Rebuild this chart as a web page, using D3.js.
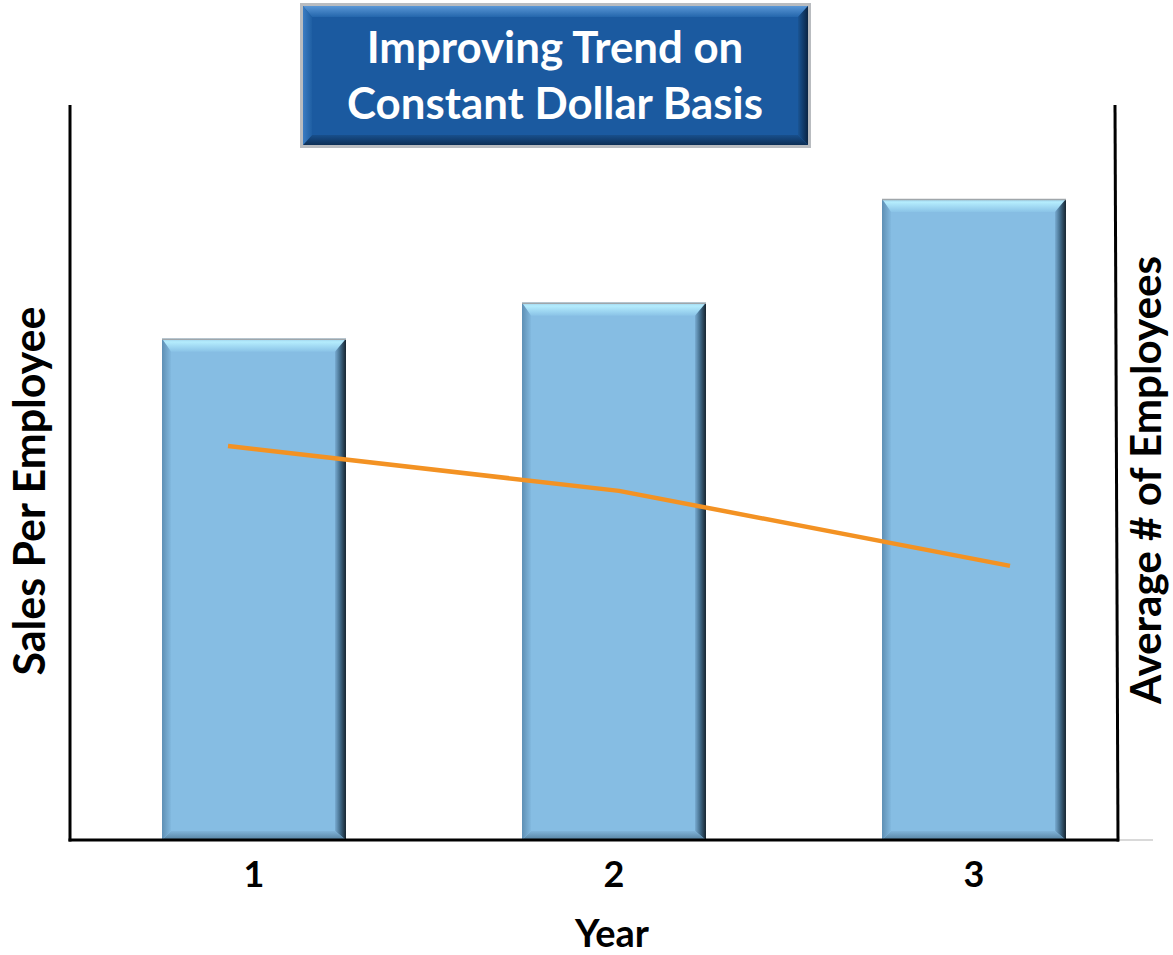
<!DOCTYPE html>
<html>
<head>
<meta charset="utf-8">
<script src="https://cdn.jsdelivr.net/npm/d3@7/dist/d3.min.js"></script>
<style>
  html, body { margin: 0; padding: 0; background: #ffffff; }
  svg { display: block; }
  text { font-family: Lato, "Open Sans", "DejaVu Sans", sans-serif; font-weight: 700; }
</style>
</head>
<body>
<svg id="chart" width="1173" height="955"></svg>
<script>
// ---- data ----
const years = [1, 2, 3];
const salesPerEmployee = [68.2, 73.1, 87.2];   // bars, left axis (index units)
const avgEmployees = [53.6, 47.5, 37.3];       // line, right axis (index units)
const tickLabels = ["1", "2", "3"];
const titleLines = ["Improving Trend on", "Constant Dollar Basis"];
const xAxisTitle = "Year";
const leftAxisTitle = "Sales Per Employee";
const rightAxisTitle = "Average # of Employees";

// ---- layout ----
const plot = { left: 70, right: 1117, top: 105, bottom: 840 };
const svg = d3.select("#chart");
const defs = svg.append("defs");

const x = d3.scaleBand().domain(years).range([74, 1154]).paddingInner(0.489).paddingOuter(0.2445);
const yLeft = d3.scaleLinear().domain([0, 100]).range([plot.bottom, plot.top]);
const yRight = d3.scaleLinear().domain([0, 100]).range([plot.bottom, plot.top]);
const xLine = d3.scaleLinear().domain([1, 3]).range([228, 1010]);

function grad(id, x2, y2, stops) {
  const g = defs.append("linearGradient").attr("id", id)
    .attr("x1", 0).attr("y1", 0).attr("x2", x2).attr("y2", y2);
  stops.forEach(([o, c]) => g.append("stop").attr("offset", o).attr("stop-color", c));
}

// bar bevel gradients
grad("barTop", 0, 1, [[0, "#9ccfe9"], [0.25, "#b4ecfd"], [1, "#8ac3e7"]]);
grad("barRight", 1, 0, [[0, "#79acd2"], [0.5, "#3f6886"], [1, "#17242f"]]);
grad("barLeft", 1, 0, [[0, "#5e8fb4"], [1, "#82b9df"]]);
grad("barBottom", 0, 1, [[0, "#80b4d9"], [1, "#55809f"]]);
// title box bevel gradients
grad("tTop", 0, 1, [[0, "#5a97d6"], [1, "#2466ac"]]);
grad("tLeft", 1, 0, [[0, "#3b7cc2"], [1, "#1f5fa3"]]);
grad("tRight", 1, 0, [[0, "#1a5595"], [1, "#0b2544"]]);
grad("tBottom", 0, 1, [[0, "#184f8c"], [1, "#0d2f56"]]);

// draws a rectangle with bevelled edges
function bevelBox(g, x0, y0, w, h, b, fill, ids) {
  const x1 = x0 + w, y1 = y0 + h;
  g.append("rect").attr("x", x0).attr("y", y0).attr("width", w).attr("height", h).attr("fill", fill);
  const poly = (pts, f) => g.append("polygon").attr("points", pts.map(p => p.join(",")).join(" ")).attr("fill", f);
  poly([[x0, y0], [x1, y0], [x1 - b.r, y0 + b.t], [x0 + b.l, y0 + b.t]], `url(#${ids[0]})`);
  poly([[x1, y0], [x1, y1], [x1 - b.r, y1 - b.b], [x1 - b.r, y0 + b.t]], `url(#${ids[1]})`);
  poly([[x0, y1], [x1, y1], [x1 - b.r, y1 - b.b], [x0 + b.l, y1 - b.b]], `url(#${ids[3]})`);
  poly([[x0, y0], [x0 + b.l, y0 + b.t], [x0 + b.l, y1 - b.b], [x0, y1]], `url(#${ids[2]})`);
}

// ---- bars ----
const barG = svg.append("g");
years.forEach((yr, i) => {
  const bx = x(yr), bw = x.bandwidth();
  const top = yLeft(salesPerEmployee[i]);
  const g = barG.append("g");
  bevelBox(g, bx, top, bw, yLeft(0) - top, { t: 13, r: 11, b: 9, l: 9 }, "#86bde3",
    ["barTop", "barRight", "barLeft", "barBottom"]);
  g.append("line").attr("x1", bx).attr("x2", bx + bw).attr("y1", top + 0.5).attr("y2", top + 0.5)
    .attr("stroke", "#a0a6aa").attr("stroke-width", 1.5);
});

// ---- line series ----
svg.append("path")
  .datum(years.map((yr, i) => [yr, avgEmployees[i]]))
  .attr("fill", "none").attr("stroke", "#f39223").attr("stroke-width", 4.5)
  .attr("stroke-linejoin", "round")
  .attr("d", d3.line().x(d => xLine(d[0])).y(d => yRight(d[1])));

// ---- axes ----
svg.append("line").attr("x1", plot.right + 1).attr("x2", 1153).attr("y1", plot.bottom).attr("y2", plot.bottom)
  .attr("stroke", "#d9d9d9").attr("stroke-width", 2);
svg.append("line").attr("x1", plot.left).attr("x2", plot.left).attr("y1", plot.top).attr("y2", plot.bottom + 1.5)
  .attr("stroke", "#000").attr("stroke-width", 3);
svg.append("line").attr("x1", plot.right - 2).attr("x2", plot.right + 1).attr("y1", plot.top).attr("y2", plot.bottom + 1.5)
  .attr("stroke", "#000").attr("stroke-width", 3);
svg.append("line").attr("x1", plot.left - 1.5).attr("x2", plot.right + 2).attr("y1", plot.bottom).attr("y2", plot.bottom)
  .attr("stroke", "#000").attr("stroke-width", 3);

// tick labels (category axis, no tick marks)
const xAxis = svg.append("g").attr("transform", `translate(0,${plot.bottom})`)
  .call(d3.axisBottom(x).tickSize(0).tickPadding(0).tickFormat((d, i) => tickLabels[i]));
xAxis.select(".domain").remove();
xAxis.attr("font-size", 36);
xAxis.selectAll("text").attr("font-size", 36).attr("fill", "#000")
  .attr("font-family", "Lato, sans-serif").attr("font-weight", 700)
  .attr("dy", null).attr("y", 47);

// fit a text element to a target width
function fitWidth(t, target) {
  const n = t.node();
  const fs = parseFloat(t.attr("font-size"));
  const len = n.getComputedTextLength();
  t.attr("font-size", (fs * target / len).toFixed(2));
}

// axis titles
const xt = svg.append("text").attr("x", 612).attr("y", 947).attr("text-anchor", "middle")
  .attr("font-size", 36).attr("fill", "#000").text(xAxisTitle);
fitWidth(xt, 74);

const lt = svg.append("text").attr("transform", "translate(45,491) rotate(-90)").attr("text-anchor", "middle")
  .attr("font-size", 38).attr("fill", "#000").text(leftAxisTitle);
fitWidth(lt, 369);

const rt = svg.append("text").attr("transform", "translate(1161,480) rotate(-90)").attr("text-anchor", "middle")
  .attr("font-size", 38).attr("fill", "#000").text(rightAxisTitle);
fitWidth(rt, 448);

// ---- title box ----
const tg = svg.append("g");
tg.append("rect").attr("x", 301.5).attr("y", 4.5).attr("width", 508).attr("height", 142)
  .attr("fill", "none").attr("stroke", "#b9bcc0").attr("stroke-width", 3);
bevelBox(tg, 303, 6, 505, 139, { t: 11, r: 10, b: 10, l: 9 }, "#1b5aa0",
  ["tTop", "tRight", "tLeft", "tBottom"]);
const t1 = tg.append("text").attr("x", 555).attr("y", 63).attr("text-anchor", "middle")
  .attr("font-size", 40).attr("fill", "#fff").text(titleLines[0]);
const t2 = tg.append("text").attr("x", 555).attr("y", 119).attr("text-anchor", "middle")
  .attr("font-size", 40).attr("fill", "#fff").text(titleLines[1]);
fitWidth(t2, 416);
t1.attr("font-size", t2.attr("font-size"));
</script>
</body>
</html>
